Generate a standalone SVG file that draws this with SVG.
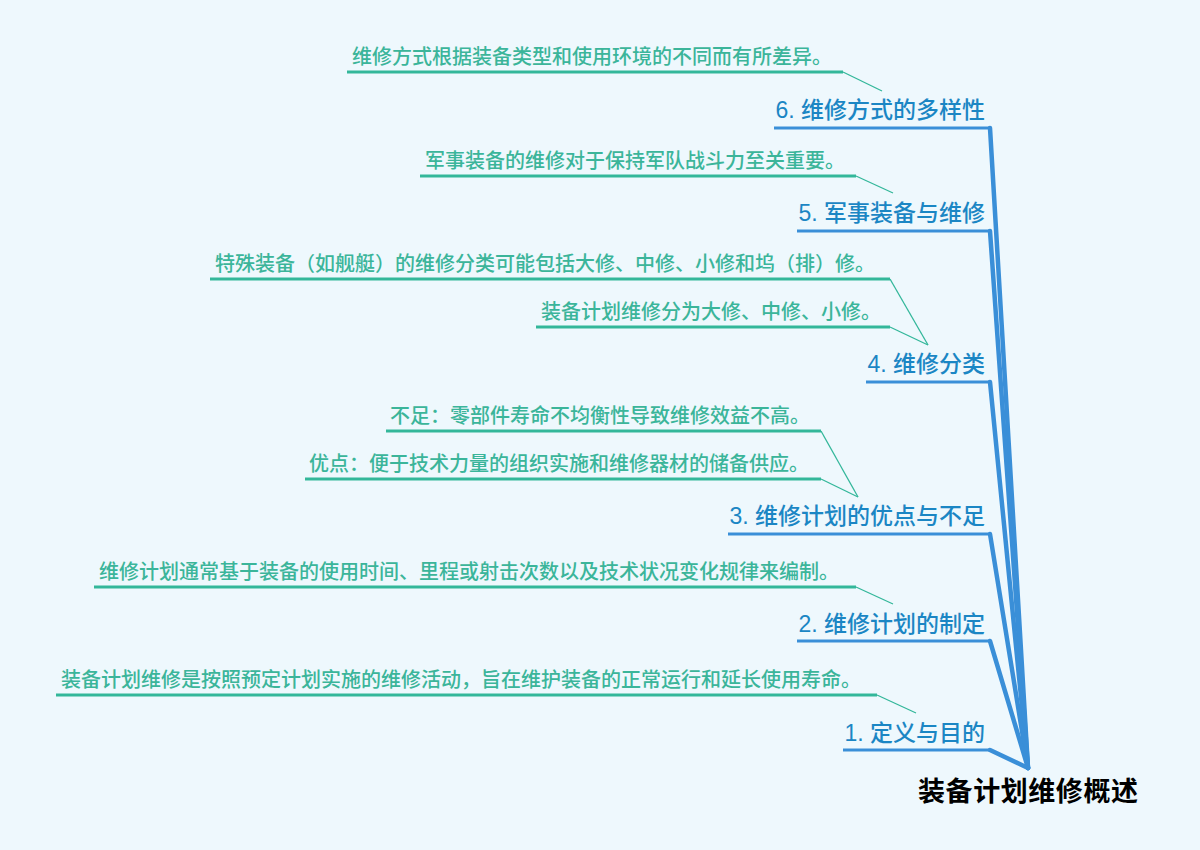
<svg xmlns="http://www.w3.org/2000/svg" width="1200" height="850" viewBox="0 0 1200 850">
<style>
.bg{fill:#eef8fd}
.leaf-t{font-family:"Noto Sans CJK SC","Noto Sans",sans-serif;font-size:20px;font-weight:500;fill:#3bb59a}
.leaf-u{stroke:#33b79a;stroke-width:3;fill:none}
.br-t{font-family:"Liberation Sans","Noto Sans CJK SC",sans-serif;font-size:23px;font-weight:500;fill:#1b86c4;text-anchor:end}
.br-u{stroke:#3a8fd8;stroke-width:3;fill:none}
.root-t{font-family:"Noto Sans CJK SC","Noto Sans",sans-serif;font-size:27px;font-weight:bold;fill:#000}
.br-c{stroke:#3a8fd8;stroke-width:4.5;stroke-linecap:round;fill:none}
.lf-c{stroke:#33b79a;stroke-width:1.3;fill:none}
</style>
<rect class="bg" x="0" y="0" width="1200" height="850"/>
<g id="connectors">
<line class="br-c" x1="990" y1="128" x2="1028" y2="768"/>
<line class="br-c" x1="990" y1="231" x2="1028" y2="768"/>
<line class="br-c" x1="990" y1="382" x2="1028" y2="768"/>
<line class="br-c" x1="990" y1="534" x2="1028" y2="768"/>
<line class="br-c" x1="990" y1="641" x2="1028" y2="768"/>
<line class="br-c" x1="990" y1="750" x2="1028" y2="768"/>
<line class="lf-c" x1="843" y1="72" x2="882" y2="91"/>
<line class="lf-c" x1="856" y1="176" x2="893" y2="193"/>
<line class="lf-c" x1="890" y1="279" x2="928" y2="345"/>
<line class="lf-c" x1="890" y1="327" x2="928" y2="345"/>
<line class="lf-c" x1="821" y1="431" x2="858" y2="497"/>
<line class="lf-c" x1="821" y1="479" x2="858" y2="497"/>
<line class="lf-c" x1="856" y1="587" x2="893" y2="604"/>
<line class="lf-c" x1="877" y1="695" x2="916" y2="713"/>
</g>
<g id="root">
<text class="root-t" x="918" y="801" textLength="220" lengthAdjust="spacing">装备计划维修概述</text>
</g>
<g id="branch6">
<text class="br-t" x="985" y="118">6. 维修方式的多样性</text>
<line class="br-u" x1="774" y1="128" x2="991" y2="128"/>
</g>
<g id="branch5">
<text class="br-t" x="985" y="221">5. 军事装备与维修</text>
<line class="br-u" x1="797" y1="231" x2="991" y2="231"/>
</g>
<g id="branch4">
<text class="br-t" x="985" y="372">4. 维修分类</text>
<line class="br-u" x1="866" y1="382" x2="991" y2="382"/>
</g>
<g id="branch3">
<text class="br-t" x="985" y="524">3. 维修计划的优点与不足</text>
<line class="br-u" x1="728" y1="534" x2="991" y2="534"/>
</g>
<g id="branch2">
<text class="br-t" x="985" y="632">2. 维修计划的制定</text>
<line class="br-u" x1="797" y1="641" x2="991" y2="641"/>
</g>
<g id="branch1">
<text class="br-t" x="985" y="741">1. 定义与目的</text>
<line class="br-u" x1="843" y1="750" x2="991" y2="750"/>
</g>
<g id="leaf6">
<text class="leaf-t" x="352" y="64">维修方式根据装备类型和使用环境的不同而有所差异。</text>
<line class="leaf-u" x1="347" y1="72" x2="843" y2="72"/>
</g>
<g id="leaf5">
<text class="leaf-t" x="425" y="168">军事装备的维修对于保持军队战斗力至关重要。</text>
<line class="leaf-u" x1="420" y1="176" x2="856" y2="176"/>
</g>
<g id="leaf4a">
<text class="leaf-t" x="215" y="271">特殊装备（如舰艇）的维修分类可能包括大修、中修、小修和坞（排）修。</text>
<line class="leaf-u" x1="210" y1="279" x2="890" y2="279"/>
</g>
<g id="leaf4b">
<text class="leaf-t" x="541" y="319">装备计划维修分为大修、中修、小修。</text>
<line class="leaf-u" x1="536" y1="327" x2="890" y2="327"/>
</g>
<g id="leaf3a">
<text class="leaf-t" x="390" y="423">不足：零部件寿命不均衡性导致维修效益不高。</text>
<line class="leaf-u" x1="386" y1="431" x2="821" y2="431"/>
</g>
<g id="leaf3b">
<text class="leaf-t" x="309" y="471">优点：便于技术力量的组织实施和维修器材的储备供应。</text>
<line class="leaf-u" x1="305" y1="479" x2="821" y2="479"/>
</g>
<g id="leaf2">
<text class="leaf-t" x="99" y="579">维修计划通常基于装备的使用时间、里程或射击次数以及技术状况变化规律来编制。</text>
<line class="leaf-u" x1="94" y1="587" x2="856" y2="587"/>
</g>
<g id="leaf1">
<text class="leaf-t" x="61" y="687">装备计划维修是按照预定计划实施的维修活动，旨在维护装备的正常运行和延长使用寿命。</text>
<line class="leaf-u" x1="56" y1="695" x2="877" y2="695"/>
</g>
</svg>
